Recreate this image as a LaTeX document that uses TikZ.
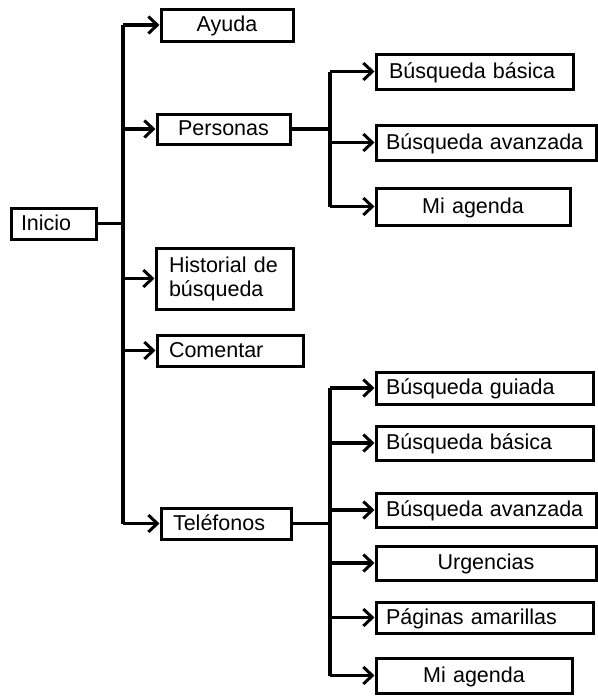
\documentclass[tikz,border=0pt]{standalone}
\usepackage{fontspec}
\setmainfont{Liberation Sans}
\usetikzlibrary{arrows.meta}
\tikzset{
      base/.style={draw=black, line width=3pt, inner xsep=10pt, inner ysep=0pt, align=left},
      box/.style={base, text height=17pt, text depth=4pt},
      cbox/.style={box, align=center},
      link/.style={draw=black, line width=3.2pt},
      arrow/.style={draw=black, line width=3.2pt, -{Straight Barb[length=9pt,width=17pt,line width=3pt]}},
}
\begin{document}
\begin{tikzpicture}[x=1pt, y=-1pt, font=\fontsize{21.5pt}{24pt}\selectfont]
        \useasboundingbox (0,0) rectangle (597,696);

        % First level
        \node[box, text width=65pt, minimum height=31pt] (inicio) at (53.5,223.5) {Inicio};
        \node[cbox, text width=112pt, minimum height=32pt] (ayuda) at (227,25) {Ayuda};
        \node[cbox, text width=113pt, minimum height=30pt] (personas) at (223.5,129) {Personas};
        \node[base, text width=111pt, inner xsep=13pt, minimum height=61pt] (historial) at (224.5,278.5) {Historial de\\búsqueda};
        \node[box, text width=122pt, inner xsep=12pt, minimum height=31pt] (comentar) at (230,350.5) {Comentar};
        \node[box, text width=106pt, inner xsep=12pt, minimum height=31pt] (telefonos) at (226,523.5) {Teléfonos};

        % Under Personas
        \node[box, text width=177pt, minimum height=35pt] (pbasica) at (474.5,71.5) {\hspace*{3pt}Búsqueda básica};
        \node[box, text width=200pt, minimum height=35pt] (pavanzada) at (486,142.5) {Búsqueda avanzada};
        \node[cbox, text width=174pt, minimum height=37pt] (pagenda) at (473,206.5) {Mi agenda};

        % Under Telefonos
        \node[box, text width=197pt, minimum height=32pt] (tguiada) at (484.5,388) {Búsqueda guiada};
        \node[box, text width=197pt, minimum height=34pt] (tbasica) at (484.5,443) {Búsqueda básica};
        \node[box, text width=200pt, minimum height=34pt] (tavanzada) at (486,510) {Búsqueda avanzada};
        \node[cbox, text width=200pt, minimum height=34pt] (urgencias) at (486,563) {Urgencias};
        \node[box, text width=197pt, minimum height=31pt] (paginas) at (484.5,617.5) {Páginas amarillas};
        \node[cbox, text width=176pt, minimum height=35pt] (tagenda) at (474,675.5) {Mi agenda};

        % Main trunk
        \coordinate (trunk) at (123,0);
        \draw[link] (inicio.east) -- (trunk |- inicio.east);
        \draw[link] (trunk |- ayuda.west) -- (trunk |- telefonos.west);
        \foreach \n in {ayuda, personas, historial, comentar, telefonos}
            \draw[arrow] (trunk |- \n.west) -- (\n.west);

        % Personas branch
        \coordinate (psub) at (330,0);
        \draw[link] (personas.east) -- (psub |- personas.east);
        \draw[link] (psub |- pbasica.west) -- (psub |- pagenda.west);
        \foreach \n in {pbasica, pavanzada, pagenda}
            \draw[arrow] (psub |- \n.west) -- (\n.west);

        % Telefonos branch
        \coordinate (tsub) at (330,0);
        \draw[link] (telefonos.east) -- (tsub |- telefonos.east);
        \draw[link] (tsub |- tguiada.west) -- (tsub |- tagenda.west);
        \foreach \n in {tguiada, tbasica, tavanzada, urgencias, paginas, tagenda}
            \draw[arrow] (tsub |- \n.west) -- (\n.west);

    \end{tikzpicture}
\end{document}
